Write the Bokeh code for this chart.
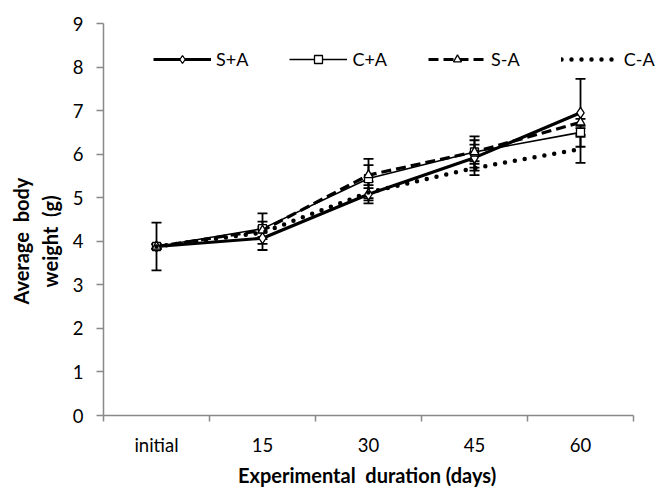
from bokeh.plotting import figure
from bokeh.models import (ColumnDataSource, Whisker, TeeHead, Legend, LegendItem,
                          FixedTicker, Range1d)
from bokeh.embed import file_html
from bokeh.resources import INLINE

categories = ["initial", "15", "30", "45", "60"]
y_ticks = [0, 1, 2, 3, 4, 5, 6, 7, 8, 9]

s_plus_a = [3.88, 4.07, 5.08, 5.92, 6.95]
s_plus_a_sd = [0.55, 0.27, 0.14, 0.30, 0.78]
c_plus_a = [3.88, 4.29, 5.44, 6.05, 6.50]
c_plus_a_sd = [0.06, 0.35, 0.45, 0.36, 0.10]
s_minus_a = [3.88, 4.25, 5.52, 6.05, 6.73]
s_minus_a_sd = [0.05, 0.20, 0.23, 0.27, 0.08]
c_minus_a = [3.88, 4.20, 5.12, 5.68, 6.12]
c_minus_a_sd = [0.05, 0.10, 0.25, 0.16, 0.32]

NB = "\u00a0"
x_title = "Experimental " + NB + "duration (days)" + NB * 8
y_title = "Average " + NB + "body" + NB * 9 + "\n" + "weight " + NB + "(g)" + NB * 9

FONT = "Lato"
AXIS_GRAY = "#898989"

W, H = 669, 489
LEFT, TOP, BOTTOM = 103, 23, 73
AXIS_PX = 530  # on-screen length of the category axis
frame_w = W - LEFT
xs = [i + 0.5 for i in range(len(categories))]
x_end = len(categories) * frame_w / AXIS_PX  # frame extends right of the axis for the legend

p = figure(width=W, height=H, output_backend="svg", toolbar_location=None,
           x_range=Range1d(0, x_end), y_range=Range1d(0, 9),
           min_border_left=LEFT, min_border_right=0, min_border_top=TOP,
           min_border_bottom=BOTTOM)
p.outline_line_color = None
p.xgrid.visible = False
p.ygrid.visible = False
p.background_fill_color = "white"

def src(vals, sd):
    return ColumnDataSource(dict(x=xs, y=vals,
                                 upper=[v + s for v, s in zip(vals, sd)],
                                 lower=[v - s for v, s in zip(vals, sd)]))

series = [
    ("S+A", s_plus_a, s_plus_a_sd, dict(line_width=3.2), "diamond", 11),
    ("C+A", c_plus_a, c_plus_a_sd, dict(line_width=1.6), "square", 8),
    ("S-A", s_minus_a, s_minus_a_sd, dict(line_width=3.2, line_dash="10 5"), "triangle", 9),
    ("C-A", c_minus_a, c_minus_a_sd, dict(line_width=4.5, line_dash="0 10", line_cap="round"), None, 0),
]

items = []
for name, vals, sd, lstyle, marker, msize in series:
    s = src(vals, sd)
    w = Whisker(base="x", upper="upper", lower="lower", source=s,
                line_color="black", line_width=1.8,
                upper_head=TeeHead(size=10, line_width=1.8, line_color="black"),
                lower_head=TeeHead(size=10, line_width=1.8, line_color="black"))
    p.add_layout(w)
    rs = []
    rs.append(p.line("x", "y", source=s, line_color="black", **lstyle))
    if marker:
        rs.append(p.scatter("x", "y", source=s, marker=marker, size=msize,
                            fill_color="white", line_color="black", line_width=1.3))
    items.append(LegendItem(label=name, renderers=rs))

legend = Legend(items=items, orientation="horizontal", location=(50, 345),
                glyph_width=58, glyph_height=20, label_standoff=5, spacing=41,
                padding=0, margin=0, border_line_color=None,
                background_fill_alpha=0, label_text_font=FONT,
                label_text_font_size="18px", label_text_color="black")
p.add_layout(legend, "center")

# x axis
p.xaxis.bounds = (0, len(categories))
p.xaxis.ticker = FixedTicker(ticks=xs, minor_ticks=list(range(len(categories) + 1)))
p.xaxis.major_label_overrides = {x: c for x, c in zip(xs, categories)}
p.xaxis.major_tick_out = 0
p.xaxis.major_tick_in = 0
p.xaxis.minor_tick_out = 6
p.xaxis.minor_tick_in = 0
p.xaxis.minor_tick_line_color = AXIS_GRAY
p.xaxis.minor_tick_line_width = 1.5
p.xaxis.major_label_standoff = 12
p.xaxis.axis_label = x_title
p.xaxis.axis_label_standoff = 4

# y axis
p.yaxis.ticker = FixedTicker(ticks=y_ticks)
p.yaxis.minor_tick_line_color = None
p.yaxis.major_tick_out = 7
p.yaxis.major_tick_in = 0
p.yaxis.major_tick_line_color = AXIS_GRAY
p.yaxis.major_tick_line_width = 1.5
p.yaxis.major_label_standoff = 13
p.yaxis.axis_label = y_title
p.yaxis.axis_label_standoff = 8

for ax in (p.xaxis, p.yaxis):
    ax.axis_line_color = AXIS_GRAY
    ax.axis_line_width = 1.5
    ax.major_label_text_font = FONT
    ax.major_label_text_font_size = "18.5px"
    ax.major_label_text_color = "black"
    ax.axis_label_text_font = FONT
    ax.axis_label_text_font_size = "20px"
    ax.axis_label_text_font_style = "bold"
    ax.axis_label_text_color = "black"

open("out.html", "w").write(file_html(p, INLINE))
